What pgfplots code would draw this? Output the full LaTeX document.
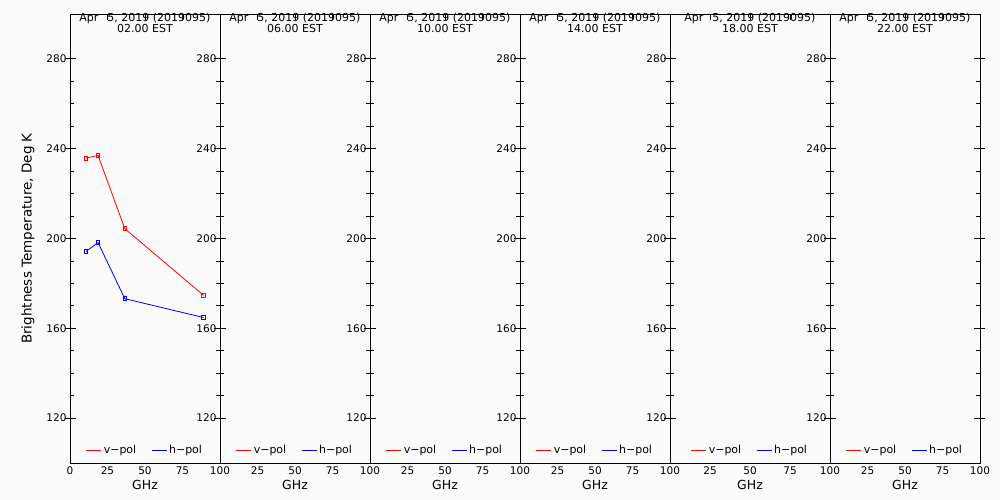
\documentclass[border=0pt]{standalone}
\usepackage{pgfplots}
\pgfplotsset{compat=1.18}
\usepackage{fontspec}
\setmainfont{DejaVu Sans}
\definecolor{bg}{RGB}{250,250,250}
\pgfplotsset{panel/.style={
  scale only axis, anchor=south west, height=449pt,
  xmin=0,xmax=100,ymin=100,ymax=300,
  xtick={0,25,50,75,100}, ytick={120,160,200,240,280}, minor y tick num=3,
  xtick pos=upper, xticklabel pos=lower, ytick pos=both, yticklabel pos=left,
  tick align=inside, major tick length=6pt, minor tick length=4pt,
  every tick/.style={black, line width=0.8pt},
  extra y ticks={120,160,200,240,280}, extra y tick labels={},
  extra y tick style={tick align=outside, major tick length=5pt},
  axis line style={line width=0.8pt},
  tick label style={font=\fontsize{10.5}{12}\selectfont},
  /pgf/number format/assume math mode=true,
  xlabel={GHz},
  every axis x label/.style={at={(axis description cs:0.5,0)}, anchor=center, yshift=-22pt, font=\fontsize{12.5}{14}\selectfont},
  title style={at={(0.5,1)},anchor=north,yshift=-1.5pt,align=center,font=\fontsize{11}{11.5}\selectfont},
  legend style={draw=none,fill=none,at={(0.5,0.029)},anchor=center,legend columns=2,font=\fontsize{11}{12}\selectfont, /tikz/every even column/.append style={column sep=13pt}},
  legend image code/.code={\draw[#1] (0pt,0pt) -- (15pt,0pt);},
  every axis plot/.append style={line width=0.8pt},
}}
\newcommand{\ttl}[1]{Apr\hspace{9pt}5, 2019 (2019095)\\#1 EST}
\newcommand{\emptypanel}[3]{%
\begin{axis}[panel, at={(#1pt,37pt)}, width=#2pt,
  xticklabels={,25,50,75,100},
  title={\ttl{#3}}]
\addlegendimage{red,line width=0.8pt}\addlegendentry{v−pol}
\addlegendimage{blue,line width=0.8pt}\addlegendentry{h−pol}
\end{axis}}
\begin{document}
\begin{tikzpicture}
\fill[bg] (0,0) rectangle (1000pt,500pt);
\begin{axis}[panel, at={(70pt,37pt)}, width=150pt,
  ylabel={Brightness Temperature, Deg K},
  every axis y label/.style={at={(axis description cs:-0.28,0.5)}, anchor=center, rotate=90, font=\fontsize{13.5}{15}\selectfont},
  title={\ttl{02.00}}]
\addplot[red, mark=square, mark size=1.8pt] coordinates {(10.65,235.8) (18.7,237.0) (36.5,204.4) (89.0,174.7)};
\addlegendentry{v−pol}
\addplot[blue, mark=square, mark size=1.8pt] coordinates {(10.65,194.2) (18.7,198.2) (36.5,173.2) (89.0,164.8)};
\addlegendentry{h−pol}
\end{axis}
\emptypanel{220}{150}{06.00}
\emptypanel{370}{150}{10.00}
\emptypanel{520}{150}{14.00}
\emptypanel{670}{160}{18.00}
\emptypanel{830}{150}{22.00}
\pgfresetboundingbox
\path[use as bounding box] (0,0) rectangle (1000pt,500pt);
\end{tikzpicture}
\end{document}
